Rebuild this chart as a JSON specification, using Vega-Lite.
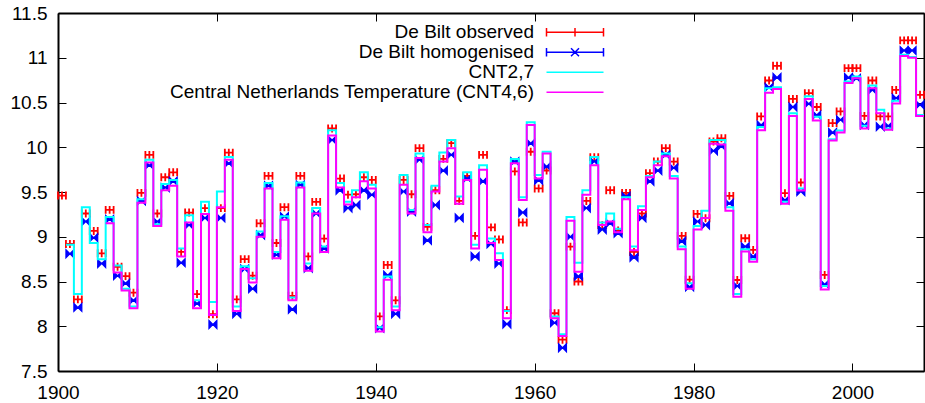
{
  "$schema": "https://vega.github.io/schema/vega-lite/v6.json",
  "autosize": {"type": "none"},
  "padding": {"left": 58, "top": 13, "right": 1, "bottom": 32},
  "width": 866,
  "height": 358,
  "background": "white",
  "config": {"view": {"stroke": null}, "font": "Liberation Sans"},
  "datasets": {
    "temps": [
      {"year": 1900, "obs": 9.46, "hom": null, "cnt27": null, "cnt46": null},
      {"year": 1901, "obs": 8.92, "hom": 8.81, "cnt27": 8.91, "cnt46": null},
      {"year": 1902, "obs": 8.30, "hom": 8.21, "cnt27": 8.36, "cnt46": null},
      {"year": 1903, "obs": 9.26, "hom": 9.17, "cnt27": 9.33, "cnt46": null},
      {"year": 1904, "obs": 9.065, "hom": 8.99, "cnt27": 8.93, "cnt46": null},
      {"year": 1905, "obs": 8.815, "hom": 8.70, "cnt27": 8.75, "cnt46": null},
      {"year": 1906, "obs": 9.30, "hom": 9.195, "cnt27": 9.22, "cnt46": 9.15},
      {"year": 1907, "obs": 8.665, "hom": 8.565, "cnt27": 8.68, "cnt46": 8.60},
      {"year": 1908, "obs": 8.56, "hom": 8.48, "cnt27": 8.42, "cnt46": 8.40},
      {"year": 1909, "obs": 8.375, "hom": 8.29, "cnt27": 8.22, "cnt46": 8.20},
      {"year": 1910, "obs": 9.49, "hom": 9.40, "cnt27": 9.42, "cnt46": 9.38},
      {"year": 1911, "obs": 9.915, "hom": 9.80, "cnt27": 9.86, "cnt46": 9.83},
      {"year": 1912, "obs": 9.26, "hom": 9.17, "cnt27": 9.14, "cnt46": 9.12},
      {"year": 1913, "obs": 9.665, "hom": 9.55, "cnt27": 9.59, "cnt46": 9.52},
      {"year": 1914, "obs": 9.72, "hom": 9.62, "cnt27": 9.635, "cnt46": 9.57},
      {"year": 1915, "obs": 8.83, "hom": 8.71, "cnt27": 8.87, "cnt46": 8.78},
      {"year": 1916, "obs": 9.27, "hom": 9.13, "cnt27": 9.24, "cnt46": 9.16},
      {"year": 1917, "obs": 8.36, "hom": 8.255, "cnt27": 8.29, "cnt46": 8.20},
      {"year": 1918, "obs": 9.32, "hom": 9.21, "cnt27": 9.39, "cnt46": 9.255},
      {"year": 1919, "obs": 8.135, "hom": 8.02, "cnt27": 8.27, "cnt46": 8.125},
      {"year": 1920, "obs": 9.32, "hom": 9.21, "cnt27": 9.505, "cnt46": 9.33},
      {"year": 1921, "obs": 9.94, "hom": 9.82, "cnt27": 9.89, "cnt46": 9.86},
      {"year": 1922, "obs": 8.30, "hom": 8.14, "cnt27": 8.22, "cnt46": 8.17},
      {"year": 1923, "obs": 8.75, "hom": 8.64, "cnt27": 8.67, "cnt46": 8.64},
      {"year": 1924, "obs": 8.565, "hom": 8.42, "cnt27": 8.535, "cnt46": 8.49},
      {"year": 1925, "obs": 9.15, "hom": 9.02, "cnt27": 9.06, "cnt46": 9.00},
      {"year": 1926, "obs": 9.68, "hom": 9.57, "cnt27": 9.60, "cnt46": 9.54},
      {"year": 1927, "obs": 8.93, "hom": 8.80, "cnt27": 8.83, "cnt46": 8.76},
      {"year": 1928, "obs": 9.33, "hom": 9.225, "cnt27": 9.23, "cnt46": 9.19},
      {"year": 1929, "obs": 8.34, "hom": 8.19, "cnt27": 8.32, "cnt46": 8.29},
      {"year": 1930, "obs": 9.68, "hom": 9.58, "cnt27": 9.605, "cnt46": 9.55},
      {"year": 1931, "obs": 8.78, "hom": 8.65, "cnt27": 8.70, "cnt46": 8.62},
      {"year": 1932, "obs": 9.39, "hom": 9.26, "cnt27": 9.32, "cnt46": 9.26},
      {"year": 1933, "obs": 8.98, "hom": 8.87, "cnt27": 8.89, "cnt46": 8.83},
      {"year": 1934, "obs": 10.21, "hom": 10.08, "cnt27": 10.19, "cnt46": 10.13},
      {"year": 1935, "obs": 9.65, "hom": 9.52, "cnt27": 9.60, "cnt46": 9.55},
      {"year": 1936, "obs": 9.47, "hom": 9.32, "cnt27": 9.39, "cnt46": 9.36},
      {"year": 1937, "obs": 9.475, "hom": 9.355, "cnt27": 9.52, "cnt46": 9.44},
      {"year": 1938, "obs": 9.665, "hom": 9.52, "cnt27": 9.72, "cnt46": 9.62},
      {"year": 1939, "obs": 9.635, "hom": 9.47, "cnt27": 9.58, "cnt46": 9.54},
      {"year": 1940, "obs": 8.11, "hom": 7.98, "cnt27": 7.99, "cnt46": 7.94},
      {"year": 1941, "obs": 8.685, "hom": 8.57, "cnt27": 8.555, "cnt46": 8.52},
      {"year": 1942, "obs": 8.29, "hom": 8.14, "cnt27": 8.22, "cnt46": 8.18},
      {"year": 1943, "obs": 9.635, "hom": 9.505, "cnt27": 9.69, "cnt46": 9.58},
      {"year": 1944, "obs": 9.475, "hom": 9.28, "cnt27": 9.30, "cnt46": 9.26},
      {"year": 1945, "obs": 9.99, "hom": 9.86, "cnt27": 9.93, "cnt46": 9.88},
      {"year": 1946, "obs": 9.11, "hom": 8.96, "cnt27": 9.13, "cnt46": 9.05},
      {"year": 1947, "obs": 9.52, "hom": 9.355, "cnt27": 9.57, "cnt46": 9.505},
      {"year": 1948, "obs": 9.87, "hom": 9.74, "cnt27": 9.94, "cnt46": 9.84},
      {"year": 1949, "obs": 10.045, "hom": 9.915, "cnt27": 10.08, "cnt46": 9.99},
      {"year": 1950, "obs": 9.40, "hom": 9.21, "cnt27": 9.45, "cnt46": 9.37},
      {"year": 1951, "obs": 9.68, "hom": 9.65, "cnt27": 9.72, "cnt46": 9.635},
      {"year": 1952, "obs": 9.01, "hom": 8.78, "cnt27": 8.91, "cnt46": 8.87},
      {"year": 1953, "obs": 9.915, "hom": 9.62, "cnt27": 9.80, "cnt46": 9.75},
      {"year": 1954, "obs": 9.105, "hom": 8.92, "cnt27": 8.98, "cnt46": 8.93},
      {"year": 1955, "obs": 8.97, "hom": 8.70, "cnt27": 8.815, "cnt46": 8.74},
      {"year": 1956, "obs": 8.18, "hom": 8.025, "cnt27": 8.17, "cnt46": 8.09},
      {"year": 1957, "obs": 9.73, "hom": 9.84, "cnt27": 9.87, "cnt46": 9.82},
      {"year": 1958, "obs": 9.16, "hom": 9.27, "cnt27": 9.44, "cnt46": 9.41},
      {"year": 1959, "obs": 9.95, "hom": 10.045, "cnt27": 10.28, "cnt46": 10.25},
      {"year": 1960, "obs": 9.54, "hom": 9.63, "cnt27": 9.69, "cnt46": 9.65},
      {"year": 1961, "obs": 9.74, "hom": 9.785, "cnt27": 9.95, "cnt46": 9.93},
      {"year": 1962, "obs": 8.145, "hom": 8.04, "cnt27": 8.11, "cnt46": 8.09},
      {"year": 1963, "obs": 7.85, "hom": 7.76, "cnt27": 7.91, "cnt46": 7.89},
      {"year": 1964, "obs": 8.89, "hom": 9.00, "cnt27": 9.22, "cnt46": 9.18},
      {"year": 1965, "obs": 8.50, "hom": 8.56, "cnt27": 8.71, "cnt46": 8.61},
      {"year": 1966, "obs": 9.40, "hom": 9.32, "cnt27": 9.52, "cnt46": 9.47},
      {"year": 1967, "obs": 9.89, "hom": 9.84, "cnt27": 9.89, "cnt46": 9.80},
      {"year": 1968, "obs": 9.13, "hom": 9.08, "cnt27": 9.16, "cnt46": 9.13},
      {"year": 1969, "obs": 9.52, "hom": 9.15, "cnt27": 9.26, "cnt46": 9.17},
      {"year": 1970, "obs": 9.07, "hom": 9.04, "cnt27": 9.09, "cnt46": 9.05},
      {"year": 1971, "obs": 9.49, "hom": 9.45, "cnt27": 9.44, "cnt46": 9.42},
      {"year": 1972, "obs": 8.83, "hom": 8.77, "cnt27": 8.89, "cnt46": 8.85},
      {"year": 1973, "obs": 9.26, "hom": 9.21, "cnt27": 9.34, "cnt46": 9.30},
      {"year": 1974, "obs": 9.71, "hom": 9.62, "cnt27": 9.68, "cnt46": 9.665},
      {"year": 1975, "obs": 9.84, "hom": 9.74, "cnt27": 9.84, "cnt46": 9.80},
      {"year": 1976, "obs": 9.99, "hom": 9.915, "cnt27": 9.93, "cnt46": 9.90},
      {"year": 1977, "obs": 9.84, "hom": 9.77, "cnt27": 9.68, "cnt46": 9.65},
      {"year": 1978, "obs": 9.01, "hom": 8.95, "cnt27": 8.89, "cnt46": 8.86},
      {"year": 1979, "obs": 8.52, "hom": 8.44, "cnt27": 8.48, "cnt46": 8.42},
      {"year": 1980, "obs": 9.255, "hom": 9.17, "cnt27": 9.12, "cnt46": 9.08},
      {"year": 1981, "obs": 9.207, "hom": 9.13, "cnt27": 9.29, "cnt46": 9.21},
      {"year": 1982, "obs": 10.064, "hom": 9.96, "cnt27": 10.08, "cnt46": 10.04},
      {"year": 1983, "obs": 10.10, "hom": 10.01, "cnt27": 10.08, "cnt46": 10.03},
      {"year": 1984, "obs": 9.457, "hom": 9.375, "cnt27": 9.33, "cnt46": 9.29},
      {"year": 1985, "obs": 8.517, "hom": 8.45, "cnt27": 8.36, "cnt46": 8.33},
      {"year": 1986, "obs": 8.983, "hom": 8.89, "cnt27": 8.86, "cnt46": 8.834},
      {"year": 1987, "obs": 8.853, "hom": 8.78, "cnt27": 8.75, "cnt46": 8.72},
      {"year": 1988, "obs": 10.344, "hom": 10.25, "cnt27": 10.225, "cnt46": 10.19},
      {"year": 1989, "obs": 10.746, "hom": 10.67, "cnt27": 10.66, "cnt46": 10.61},
      {"year": 1990, "obs": 10.91, "hom": 10.78, "cnt27": 10.67, "cnt46": 10.65},
      {"year": 1991, "obs": 9.487, "hom": 9.41, "cnt27": 9.39, "cnt46": 9.37},
      {"year": 1992, "obs": 10.54, "hom": 10.45, "cnt27": 10.38, "cnt46": 10.35},
      {"year": 1993, "obs": 9.606, "hom": 9.505, "cnt27": 9.54, "cnt46": 9.516},
      {"year": 1994, "obs": 10.605, "hom": 10.486, "cnt27": 10.57, "cnt46": 10.54},
      {"year": 1995, "obs": 10.45, "hom": 10.36, "cnt27": 10.34, "cnt46": 10.30},
      {"year": 1996, "obs": 8.573, "hom": 8.47, "cnt27": 8.45, "cnt46": 8.41},
      {"year": 1997, "obs": 10.27, "hom": 10.165, "cnt27": 10.09, "cnt46": 10.075},
      {"year": 1998, "obs": 10.40, "hom": 10.307, "cnt27": 10.187, "cnt46": 10.165},
      {"year": 1999, "obs": 10.884, "hom": 10.78, "cnt27": 10.735, "cnt46": 10.717},
      {"year": 2000, "obs": 10.884, "hom": 10.77, "cnt27": 10.79, "cnt46": 10.77},
      {"year": 2001, "obs": 10.35, "hom": 10.25, "cnt27": 10.24, "cnt46": 10.21},
      {"year": 2002, "obs": 10.746, "hom": 10.64, "cnt27": 10.69, "cnt46": 10.66},
      {"year": 2003, "obs": 10.344, "hom": 10.23, "cnt27": 10.42, "cnt46": 10.38},
      {"year": 2004, "obs": 10.344, "hom": 10.24, "cnt27": 10.21, "cnt46": 10.195},
      {"year": 2005, "obs": 10.64, "hom": 10.55, "cnt27": 10.52, "cnt46": 10.49},
      {"year": 2006, "obs": 11.194, "hom": 11.08, "cnt27": 11.034, "cnt46": 11.02},
      {"year": 2007, "obs": 11.194, "hom": 11.08, "cnt27": 11.008, "cnt46": 11.0},
      {"year": 2008, "obs": 10.586, "hom": 10.474, "cnt27": 10.36, "cnt46": 10.35},
      {"year": 2009, "obs": null, "hom": null, "cnt27": 10.36, "cnt46": 10.35}
    ],
    "series": [
      {"series": "De Bilt observed"},
      {"series": "De Bilt homogenised"},
      {"series": "CNT2,7"},
      {"series": "Central Netherlands Temperature (CNT4,6)"}
    ]
  },
  "resolve": {"axis": {"x": "independent", "y": "independent"}},
  "layer": [
    {
      "data": {"name": "temps"},
      "mark": {"type": "point", "shape": "M0,0L2,0M0,-1L0,1M2,-1L2,1M1,-1L1,1", "size": 63, "filled": false, "stroke": "#ff0000", "strokeWidth": 1.8, "opacity": 1},
      "encoding": {
        "x": {"field": "year", "type": "quantitative", "scale": {"domain": [1900, 2009], "nice": false, "zero": false},
              "axis": {"orient": "bottom", "values": [1900, 1920, 1940, 1960, 1980, 2000], "format": "d", "title": null, "grid": false,
                       "labelFont": "Liberation Sans", "labelFontSize": 19, "labelColor": "black", "labelPadding": 20, "labelFlush": false,
                       "tickSize": -8, "tickColor": "black", "tickWidth": 1, "domainColor": "black", "domainWidth": 2}},
        "y": {"field": "obs", "type": "quantitative", "scale": {"domain": [7.5, 11.5], "nice": false, "zero": false},
              "axis": {"orient": "left", "values": [7.5, 8, 8.5, 9, 9.5, 10, 10.5, 11, 11.5], "format": "~g", "title": null, "grid": false,
                       "labelFont": "Liberation Sans", "labelFontSize": 19, "labelColor": "black", "labelPadding": 19, "labelFlush": false,
                       "tickSize": -8, "tickColor": "black", "tickWidth": 1, "domainColor": "black", "domainWidth": 2}}
      }
    },
    {
      "data": {"name": "temps"},
      "mark": {"type": "point", "shape": "M0,-1L1,0L0,1ZM2,-1L1,0L2,1ZM0,0L2,0", "size": 63, "filled": true, "fill": "#0000ff", "stroke": "#0000ff", "strokeWidth": 1.2, "opacity": 1},
      "encoding": {
        "x": {"field": "year", "type": "quantitative", "axis": null},
        "y": {"field": "hom", "type": "quantitative", "axis": null}
      }
    },
    {
      "data": {"name": "temps"},
      "mark": {"type": "line", "interpolate": "step-after", "stroke": "#00ffff", "strokeWidth": 2},
      "encoding": {
        "x": {"field": "year", "type": "quantitative",
              "axis": {"orient": "top", "values": [1900, 1920, 1940, 1960, 1980, 2000], "labels": false, "title": null, "grid": false,
                       "tickSize": -8, "tickColor": "black", "tickWidth": 1, "domainColor": "black", "domainWidth": 2}},
        "y": {"field": "cnt27", "type": "quantitative",
              "axis": {"orient": "right", "values": [7.5, 8, 8.5, 9, 9.5, 10, 10.5, 11, 11.5], "labels": false, "title": null, "grid": false,
                       "tickSize": -8, "tickColor": "black", "tickWidth": 1, "domainColor": "black", "domainWidth": 2}}
      }
    },
    {
      "data": {"name": "temps"},
      "mark": {"type": "line", "interpolate": "step-after", "stroke": "#ff00ff", "strokeWidth": 2},
      "encoding": {
        "x": {"field": "year", "type": "quantitative", "axis": null},
        "y": {"field": "cnt46", "type": "quantitative", "axis": null}
      }
    },
    {
      "data": {"name": "series"},
      "mark": {"type": "point", "filled": false, "opacity": 0},
      "encoding": {
        "x": {"datum": 1950, "type": "quantitative", "axis": null},
        "y": {"datum": 9, "type": "quantitative", "axis": null},
        "color": {"field": "series", "type": "nominal",
                  "scale": {"domain": ["De Bilt observed", "De Bilt homogenised", "CNT2,7", "Central Netherlands Temperature (CNT4,6)"],
                            "range": ["#ff0000", "#0000ff", "#00ffff", "#ff00ff"]},
                  "legend": {"orient": "none", "legendX": 507.5, "legendY": 9.8, "title": null, "padding": 0,
                             "labelFont": "Liberation Sans", "labelFontSize": 19, "labelColor": "black", "labelAlign": "right",
                             "labelOffset": -50.5, "labelLimit": 600, "symbolSize": 100, "symbolStrokeWidth": 1.5,
                             "symbolOpacity": 1, "rowPadding": -0.7}},
        "shape": {"field": "series", "type": "nominal",
                  "scale": {"domain": ["De Bilt observed", "De Bilt homogenised", "CNT2,7", "Central Netherlands Temperature (CNT4,6)"],
                            "range": ["M-5.7,0L5.7,0M-5.7,-0.86L-5.7,0.86M5.7,-0.86L5.7,0.86M0,-0.86L0,0.86",
                                      "M-5.7,0L5.7,0M-5.7,-0.86L-5.7,0.86M5.7,-0.86L5.7,0.86M-0.8,-0.8L0.8,0.8M-0.8,0.8L0.8,-0.8",
                                      "M-5.7,0L5.7,0",
                                      "M-5.7,0L5.7,0"]}}
      }
    }
  ]
}
